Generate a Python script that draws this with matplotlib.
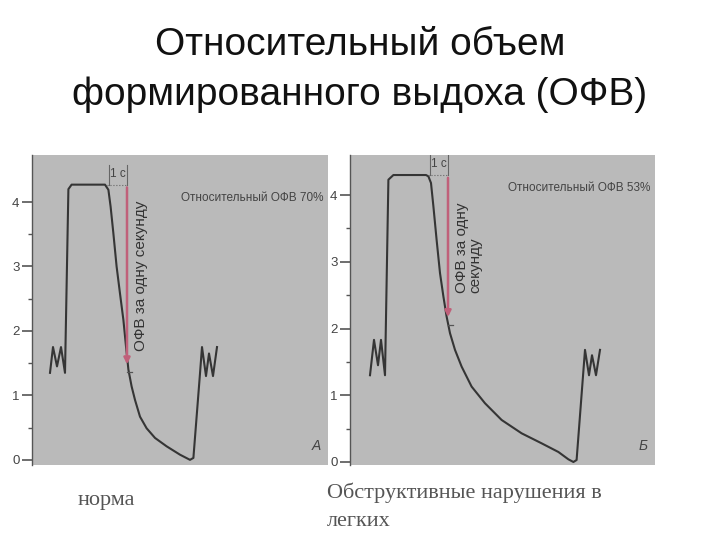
import matplotlib
matplotlib.use("Agg")
import matplotlib.pyplot as plt

plt.rcParams["font.family"] = ["Liberation Sans", "DejaVu Sans"]

# --- data (time in s, volume in L) ---
norm_t = [0.9, 1.05, 1.25, 1.45, 1.65, 1.82, 1.98, 3.65, 3.82, 3.93, 4.07, 4.23, 4.4,
          4.57, 4.7, 4.82, 4.98, 5.15, 5.4, 5.73, 6.15, 6.73, 7.4, 7.9, 8.07, 8.4,
          8.5, 8.7, 8.85, 9.05, 9.25]
norm_v = [1.35, 1.75, 1.45, 1.75, 1.35, 4.2, 4.27, 4.27, 4.19, 3.93, 3.51, 3.0, 2.58,
          2.17, 1.76, 1.4, 1.14, 0.93, 0.67, 0.49, 0.34, 0.21, 0.08, 0.0, 0.03, 1.34,
          1.75, 1.3, 1.65, 1.3, 1.75]
obst_t = [1.0, 1.2, 1.4, 1.55, 1.75, 1.92, 2.17, 3.8, 3.92, 4.05, 4.17, 4.33, 4.5,
          4.67, 4.83, 5.0, 5.25, 5.58, 6.08, 6.75, 7.58, 8.58, 9.58, 10.42, 10.92,
          11.17, 11.33, 11.75, 11.95, 12.1, 12.3, 12.5]
obst_v = [1.3, 1.83, 1.45, 1.83, 1.3, 4.23, 4.3, 4.3, 4.28, 4.18, 3.83, 3.33, 2.83,
          2.48, 2.18, 1.93, 1.68, 1.43, 1.13, 0.88, 0.63, 0.43, 0.28, 0.15, 0.04,
          0.0, 0.03, 1.68, 1.3, 1.6, 1.3, 1.68]

panels = [
    {"t": norm_t, "v": norm_v, "plateau_end": 3.75, "top": 4.27, "fev1": 1.44,
     "label": "Относительный ОФВ 70%", "letter": "А", "rot": "ОФВ за одну секунду"},
    {"t": obst_t, "v": obst_v, "plateau_end": 3.9, "top": 4.3, "fev1": 2.13,
     "label": "Относительный ОФВ 53%", "letter": "Б", "rot": "ОФВ за одну\nсекунду"},
]
yticks = [0, 1, 2, 3, 4]
minor_yticks = [0.5, 1.5, 2.5, 3.5]

W, H = 720, 540
fig = plt.figure(figsize=(7.2, 5.4), dpi=100)
fig.patch.set_facecolor("white")

# pixel boxes (left, top, right, bottom) and axis limits for each scan
boxes = [(32, 155, 328, 465), (350, 155, 655, 465)]
ylims = [(-0.08, 4.73), (-0.045, 4.6)]
xlims = [(0, 14.8), (0, 15.25)]

gray = "#bababa"
ink = "#353535"
red = "#c0607a"

for p, box, yl, xl in zip(panels, boxes, ylims, xlims):
    l, t, r, b = box
    ax = fig.add_axes([l / W, (H - b) / H, (r - l) / W, (b - t) / H])
    ax.set_facecolor(gray)
    ax.set_xlim(*xl)
    ax.set_ylim(*yl)
    for s in ["top", "right", "bottom"]:
        ax.spines[s].set_visible(False)
    ax.spines["left"].set_color("#555555")
    ax.spines["left"].set_linewidth(1.0)
    ax.set_xticks([])
    ax.set_yticks(yticks)
    ax.set_yticks(minor_yticks, minor=True)
    ax.tick_params(axis="y", which="major", length=7, width=1.2, color="#555555",
                   labelsize=9.5, labelcolor="#444444", pad=2)
    ax.tick_params(axis="y", which="minor", length=3, width=1.0, color="#555555")

    ax.plot(p["t"], p["v"], color=ink, lw=1.5, solid_joinstyle="round")

    x1 = p["plateau_end"] + 1.0
    # plateau extension and 1 s bracket
    ax.plot([p["plateau_end"], x1], [p["top"], p["top"]], color="#666666", lw=0.8, ls=":")
    ax.plot([p["plateau_end"] + 0.1, p["plateau_end"] + 0.1], [p["top"], p["top"] + 0.3],
            color="#666666", lw=0.8)
    ax.plot([x1, x1], [p["top"], p["top"] + 0.3], color="#666666", lw=0.8)
    ax.text((p["plateau_end"] + 0.1 + x1) / 2, p["top"] + 0.17, "1 с", fontsize=8.5,
            color="#444444", ha="center", va="center")

    # FEV1 arrow
    ax.annotate("", xy=(x1, p["fev1"]), xytext=(x1, p["top"]),
                arrowprops=dict(arrowstyle="-|>", color=red, lw=1.8, mutation_scale=9))
    ax.plot([x1, x1 + 0.25], [p["fev1"] - 0.08, p["fev1"] - 0.08], color="#555555", lw=0.9)

    ax.text(x1 + 0.35, (p["top"] + p["fev1"]) / 2, p["rot"], rotation=90, fontsize=11,
            color="#333333", ha="left", va="center", linespacing=0.95)
    ax.text(0.985, (p["top"] - 0.2 - yl[0]) / (yl[1] - yl[0]), p["label"],
            transform=ax.transAxes, fontsize=8.5, color="#444444", ha="right", va="center")
    ax.text(0.975, 0.06, p["letter"], transform=ax.transAxes, fontsize=10,
            color="#444444", ha="right", va="center", style="italic")

fig.text(0.5, 1 - 45 / H, "Относительный объем", fontsize=28, ha="center", va="center",
         color="#111111")
fig.text(0.5, 1 - 95 / H, "формированного выдоха (ОФВ)", fontsize=28, ha="center",
         va="center", color="#111111")

serif = ["Liberation Serif", "DejaVu Serif"]
fig.text(78 / W, 1 - 500 / H, "норма", fontsize=16, family=serif, color="#555555",
         ha="left", va="center")
fig.text(327 / W, 1 - 493 / H, "Обструктивные нарушения в", fontsize=16, family=serif,
         color="#555555", ha="left", va="center")
fig.text(327 / W, 1 - 522 / H, "легких", fontsize=16, family=serif, color="#555555",
         ha="left", va="center")

fig.savefig("out.png", dpi=100)
